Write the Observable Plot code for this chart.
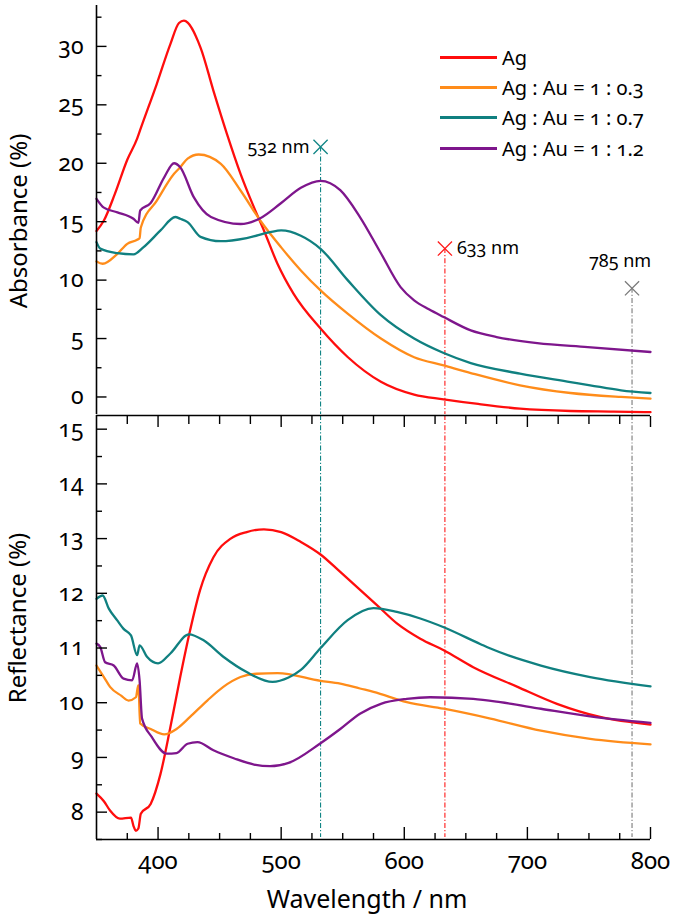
<!DOCTYPE html>
<html><head><meta charset="utf-8">
<script src="https://cdn.jsdelivr.net/npm/d3@7"></script>
<script src="https://cdn.jsdelivr.net/npm/@observablehq/plot@0.6"></script>
<style>
body{margin:0;background:#fff;font-family:"Noto Sans",Lato,sans-serif;color:#000;}
#wrap{position:relative;width:675px;height:917px;overflow:hidden;}
#wrap svg{display:block;}
svg text{font-variant-numeric:oldstyle-nums;}
#legend{position:absolute;left:440px;top:42px;font-size:20px;font-variant-numeric:oldstyle-nums;}
.row{display:flex;align-items:center;height:30.3px;white-space:nowrap;}
.sw{width:57px;height:0;border-top:3px solid;margin-right:5px;}
.ttl{position:absolute;font-size:24px;white-space:nowrap;transform:translate(-50%,-50%);}
.rot{transform:translate(-50%,-50%) rotate(-90deg);}
</style></head><body>
<div id="wrap">
  <div id="top"></div><div id="bot"></div>
  <div id="legend"></div>
  <div class="ttl rot" style="left:17px;top:221px">Absorbance (%)</div>
  <div class="ttl rot" style="left:16px;top:618px">Reflectance (%)</div>
  <div class="ttl" style="left:367px;top:898px;font-size:25px">Wavelength / nm</div>
</div>
<script>
// ---- series ----
const seriesNames = ["Ag", "Ag : Au = 1 : 0.3", "Ag : Au = 1 : 0.7", "Ag : Au = 1 : 1.2"];
const seriesColors = ["#ff0d0d", "#ff8c1a", "#108080", "#7e168c"];

// ---- absorbance (%) ----
const absAgNm  = [350,356,365,375,383,386,399,410,417,421,434.5,445,456,467,478,486,497,510,532,554,581,608,632,660,694,735,770,800];
const absAgVal = [14.2,15.1,17.4,20.3,22.1,23.0,26.8,30.2,32.0,32.2,29.9,26.2,22.5,19.1,16.2,14.25,11.4,8.84,5.85,3.42,1.3,0.2,-0.2,-0.6,-1.0,-1.2,-1.25,-1.3];
const absOrNm  = [350,355,367,375,383,385,386,399,413,418,424,433,451,467,483,500,516,532,554,581,608,632,654,694,735,776,800];
const absOrVal = [11.6,11.4,12.25,13.1,13.45,13.6,14.5,16.8,19.1,19.66,20.4,20.75,19.95,17.67,15.1,12.8,10.83,9.12,7.13,5.0,3.4,2.7,2.05,1.0,0.34,0.0,-0.14];
const absTeNm  = [350,353,367,380,388,402,414,418,424,434.5,451,472,491,500,516,532,554,581,608,632,654,694,735,751,776,800];
const absTeVal = [13.25,12.7,12.3,12.2,12.8,14.25,15.4,15.25,14.96,13.7,13.33,13.6,14.1,14.25,13.8,12.68,10.0,7.0,5.0,3.76,2.9,2.0,1.28,1.0,0.57,0.34];
const absPuNm  = [350,356,367,380,384,385.5,394,405,413,418,429,443,467,483,500,516,532,548,564,581,597,608,620,632,654,675,708,749,800];
const absPuVal = [16.96,16.2,15.8,15.25,14.9,15.96,16.6,18.8,20.0,19.66,17.1,15.4,14.8,15.3,16.6,17.9,18.5,17.7,15.4,12.3,9.4,8.26,7.5,6.84,5.7,5.13,4.6,4.27,3.85];

// ---- reflectance (%) ----
const refAgNm  = [350,356,361,369,378,380,382,384,386,394,402,410,418,426,434,445,459,472,486,500,516,532,548,578,594,613,632,656,692,724,759,800];
const refAgVal = [8.34,8.2,8.03,7.88,7.9,7.75,7.66,7.7,7.97,8.15,8.7,9.55,10.47,11.32,12.05,12.66,13.0,13.12,13.17,13.12,12.94,12.71,12.39,11.78,11.45,11.17,10.96,10.65,10.29,9.98,9.74,9.6];
const refOrNm  = [350,356,361,370,376,382,384,385.5,394,405,415,426,440,453,467,480,497,532,548,564,575,602,632,670,711,751,800];
const refOrVal = [10.68,10.47,10.29,10.13,10.04,10.1,10.32,9.62,9.52,9.42,9.52,9.74,10.04,10.29,10.47,10.53,10.54,10.4,10.35,10.26,10.2,10.01,9.89,9.71,9.49,9.34,9.24];
const refTeNm  = [350,355,360,367,372,378,383,385,391,400,410,425,437,453,472,493,506,516,532,554,575,594,613,632,662,670,711,751,800];
const refTeVal = [11.9,11.96,11.72,11.5,11.35,11.23,10.87,11.05,10.84,10.72,10.9,11.25,11.14,10.84,10.56,10.38,10.46,10.6,11.0,11.51,11.73,11.66,11.54,11.38,11.07,10.99,10.68,10.47,10.3];
const refPuNm  = [350,353,357,364,372,379,383,385,387,395,407,415,424,432,445,462,478,491,506,532,548,564,581,602,621,656,678,711,751,800];
const refPuVal = [11.08,11.02,10.74,10.68,10.44,10.41,10.72,10.41,9.71,9.37,9.07,9.08,9.25,9.28,9.13,8.98,8.87,8.84,8.9,9.26,9.52,9.8,9.98,10.07,10.1,10.07,10.01,9.89,9.75,9.63];

// ---- laser lines ----
const laserNm = [532, 633, 785];
const laserAbs = [21.4, 12.7, 9.3];
const laserLabels = ["532 nm", "633 nm", "785 nm"];
const laserColors = ["#108585", "#ff1a1a", "#7a7a7a"];

// ---- axes ----
const xDomain = [350, 800];
const xMajor = [400, 500, 600, 700, 800];
const xMinor = [375, 425, 450, 475, 525, 550, 575, 625, 650, 675, 725, 750, 775];
const absDomain = [-1.5, 33.5];
const absMajor = [0, 5, 10, 15, 20, 25, 30];
const absMinor = [2.5, 7.5, 12.5, 17.5, 22.5, 27.5, 32.5];
const refDomain = [7.5, 15.25];
const refMajor = [8, 9, 10, 11, 12, 13, 14, 15];
const refMinor = [7.5, 8.5, 9.5, 10.5, 11.5, 12.5, 13.5, 14.5];

const build = (pairs) => pairs.flatMap(([nm, val], i) => nm.map((x, j) => ({x, y: val[j], s: seriesNames[i]})));
const absData = build([[absAgNm, absAgVal], [absOrNm, absOrVal], [absTeNm, absTeVal], [absPuNm, absPuVal]]);
const refData = build([[refAgNm, refAgVal], [refOrNm, refOrVal], [refTeNm, refTeVal], [refPuNm, refPuVal]]);
const lasers = laserNm.map((x, i) => ({x, y: laserAbs[i], label: laserLabels[i], c: laserColors[i]}));

const color = {domain: seriesNames, range: seriesColors};
const dash = "5,2,1.2,2";
const font = {fontFamily: '"Noto Sans", Lato, sans-serif', fontSize: "23px", color: "#000", overflow: "visible"};
const fmt = d => String(d);

const topPlot = Plot.plot({
  width: 675, height: 414, marginLeft: 96, marginRight: 25, marginTop: 5, marginBottom: 0,
  x: {domain: xDomain, axis: null},
  y: {domain: absDomain, axis: null},
  color,
  style: font,
  marks: [
    Plot.ruleX(lasers, {x: "x", y1: "y", y2: () => absDomain[0], stroke: "c", strokeWidth: 1.1, strokeDasharray: dash}),
    Plot.line(absData, {x: "x", y: "y", z: "s", stroke: "s", strokeWidth: 2.3, curve: "monotone-x"}),
    Plot.dot(lasers, {x: "x", y: "y", stroke: "c", symbol: "times", r: 6.5, strokeWidth: 1.3}),
    Plot.text([lasers[0]], {x: "x", y: "y", text: "label", textAnchor: "end", dx: -11, fontSize: 18}),
    Plot.text([lasers[1]], {x: "x", y: "y", text: "label", textAnchor: "start", dx: 12, fontSize: 18}),
    Plot.text([lasers[2]], {x: "x", y: "y", text: "label", textAnchor: "middle", dx: -12, dy: -27, fontSize: 18}),
    Plot.ruleX([xDomain[0]], {strokeWidth: 1.6}),
    Plot.axisY(absMajor, {anchor: "left", tickSize: -10.5, fill: "none", label: null, strokeWidth: 1.4}),
    Plot.axisY(absMinor, {anchor: "left", tickSize: -5.5, fill: "none", label: null, strokeWidth: 1.4}),
    Plot.axisY(absMajor, {anchor: "left", tickSize: 0, tickPadding: 13, label: null, fontSize: 23, tickFormat: fmt})
  ]
});

const botPlot = Plot.plot({
  width: 675, height: 503, marginLeft: 96, marginRight: 25, marginTop: 1, marginBottom: 78,
  x: {domain: xDomain, axis: null},
  y: {domain: refDomain, axis: null},
  color,
  style: font,
  marks: [
    Plot.ruleX(lasers, {x: "x", stroke: "c", strokeWidth: 1.1, strokeDasharray: dash, insetBottom: 2}),
    Plot.line(refData, {x: "x", y: "y", z: "s", stroke: "s", strokeWidth: 2.3, curve: "monotone-x"}),
    Plot.ruleX([xDomain[0]], {strokeWidth: 1.6}),
    Plot.ruleY(refDomain, {strokeWidth: 1.6}),
    Plot.axisY(refMajor, {anchor: "left", tickSize: -11, fill: "none", label: null, strokeWidth: 1.4}),
    Plot.axisY(refMinor, {anchor: "left", tickSize: -6, fill: "none", label: null, strokeWidth: 1.4}),
    Plot.axisY(refMajor, {anchor: "left", tickSize: 0, tickPadding: 13, label: null, fontSize: 23, tickFormat: fmt}),
    Plot.axisX(xMajor, {anchor: "bottom", tickSize: -12, fill: "none", label: null, strokeWidth: 1.4}),
    Plot.axisX(xMinor, {anchor: "bottom", tickSize: -6, fill: "none", label: null, strokeWidth: 1.4}),
    Plot.axisX(xMajor, {anchor: "bottom", tickSize: 0, tickPadding: 12, label: null, fontSize: 24, tickFormat: fmt}),
    Plot.axisX(xMajor, {anchor: "top", tickSize: -11, fill: "none", label: null, strokeWidth: 1.4}),
    Plot.axisX(xMinor, {anchor: "top", tickSize: -8, fill: "none", label: null, strokeWidth: 1.4})
  ]
});

document.getElementById("top").appendChild(topPlot);
document.getElementById("bot").appendChild(botPlot);

const legend = document.getElementById("legend");
seriesNames.forEach((n, i) => {
  const row = document.createElement("div");
  row.className = "row";
  row.innerHTML = `<span class="sw" style="border-color:${seriesColors[i]}"></span><span>${n}</span>`;
  legend.appendChild(row);
});
</script>
</body></html>
